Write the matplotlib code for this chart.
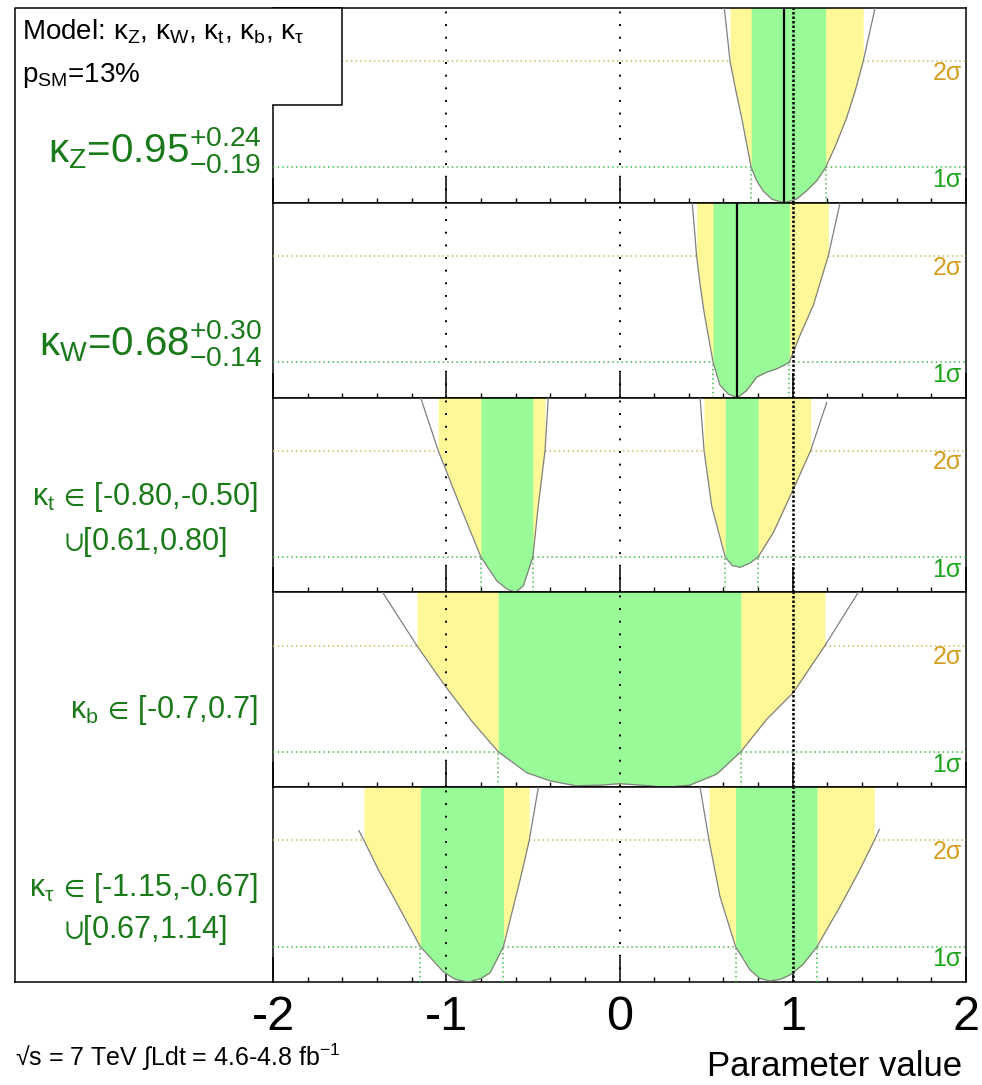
import numpy as np
import matplotlib
matplotlib.use("Agg")
import matplotlib.pyplot as plt
from matplotlib.ticker import MultipleLocator

plt.rcParams["font.family"] = ["Liberation Sans", "DejaVu Sans"]
plt.rcParams["mathtext.fontset"] = "custom"
plt.rcParams["mathtext.rm"] = "Liberation Sans"
plt.rcParams["mathtext.it"] = "Liberation Sans"
plt.rcParams["mathtext.bf"] = "Liberation Sans:bold"
plt.rcParams["mathtext.fallback"] = "stixsans"
plt.rcParams["axes.unicode_minus"] = False

# -2 ln(Lambda) scans for each coupling (curves split where they leave the frame)
kz_x = [0.605, 0.638, 0.67, 0.705, 0.76, 0.792, 0.828, 0.88, 0.95, 1.02, 1.08, 1.138, 1.19, 1.25, 1.311, 1.36, 1.407, 1.475]
kz_y = [5.5, 4.0, 3.2, 2.4, 1.0, 0.62, 0.34, 0.1, 0.0, 0.1, 0.34, 0.62, 1.0, 1.65, 2.4, 3.15, 4.0, 5.5]

kw_x = [0.42, 0.445, 0.465, 0.488, 0.54, 0.58, 0.628, 0.68, 0.734, 0.792, 0.85, 0.907, 0.955, 0.98, 1.042, 1.119, 1.205, 1.273]
kw_y = [5.5, 4.0, 3.2, 2.42, 1.0, 0.35, 0.1, 0.0, 0.2, 0.58, 0.72, 0.81, 0.93, 1.0, 1.76, 2.61, 4.0, 5.5]

kt_lx = [-1.148, -1.046, -0.92, -0.80, -0.709, -0.651, -0.6, -0.555, -0.50, -0.469, -0.43, -0.411]
kt_ly = [5.5, 4.0, 2.44, 1.0, 0.33, 0.1, 0.0, 0.19, 1.0, 2.44, 4.0, 5.5]
kt_rx = [0.465, 0.488, 0.532, 0.61, 0.65, 0.696, 0.753, 0.80, 0.888, 1.003, 1.103, 1.196]
kt_ry = [5.5, 4.0, 2.44, 1.0, 0.76, 0.71, 0.83, 1.0, 1.69, 2.91, 4.0, 5.36]

kb_x = [-1.367, -1.17, -1.007, -0.85, -0.7, -0.536, -0.401, -0.25, -0.1, 0.0, 0.12, 0.27, 0.407, 0.561, 0.7, 0.85, 1.003, 1.186, 1.378]
kb_y = [5.5, 4.0, 2.86, 1.85, 1.0, 0.41, 0.18, 0.04, 0.06, 0.1, 0.06, 0.0, 0.06, 0.37, 1.0, 1.92, 2.67, 4.0, 5.5]

ktau_lx = [-1.504, -1.475, -1.39, -1.306, -1.15, -1.017, -0.95, -0.873, -0.8, -0.747, -0.67, -0.574, -0.521, -0.469]
ktau_ly = [4.27, 4.0, 3.15, 2.41, 1.0, 0.29, 0.08, 0.0, 0.1, 0.26, 1.0, 2.88, 4.0, 5.48]
ktau_rx = [0.465, 0.517, 0.58, 0.67, 0.753, 0.81, 0.869, 0.93, 0.984, 1.06, 1.14, 1.273, 1.38, 1.471, 1.5]
ktau_ry = [5.5, 4.0, 2.41, 1.0, 0.34, 0.1, 0.03, 0.08, 0.2, 0.5, 1.0, 2.13, 3.1, 4.0, 4.31]

# 68% and 95% CL intervals
kz_1s, kz_2s = [(0.76, 1.19)], [(0.638, 1.407)]
kw_1s, kw_2s = [(0.54, 0.98)], [(0.445, 1.205)]
kt_1s, kt_2s = [(-0.80, -0.50), (0.61, 0.80)], [(-1.046, -0.43), (0.488, 1.103)]
kb_1s, kb_2s = [(-0.7, 0.7)], [(-1.17, 1.186)]
ktau_1s, ktau_2s = [(-1.15, -0.67), (0.67, 1.14)], [(-1.475, -0.521), (0.517, 1.471)]

best_fit = [0.95, 0.68, None, None, None]

panels = [
    ([(kz_x, kz_y)], kz_1s, kz_2s),
    ([(kw_x, kw_y)], kw_1s, kw_2s),
    ([(kt_lx, kt_ly), (kt_rx, kt_ry)], kt_1s, kt_2s),
    ([(kb_x, kb_y)], kb_1s, kb_2s),
    ([(ktau_lx, ktau_ly), (ktau_rx, ktau_ry)], ktau_1s, ktau_2s),
]

YELLOW = "#fff899"
GREEN = "#98fb98"
TXT_GREEN = "#1a7a1a"
ONE_LINE = "#44bb44"
TWO_LINE = "#c8bb5c"

W, H = 982, 1085
fig = plt.figure(figsize=(W / 100, H / 100), dpi=100)

X0, X1 = 273, 966
TOP, BOT = 8, 982
ph = (BOT - TOP) / 5
YMAX = 5.5


def gaps(ints):
    edges = [-2.0] + [v for iv in ints for v in iv] + [2.0]
    return list(zip(edges[::2], edges[1::2]))


for i, (curves, one_s, two_s) in enumerate(panels):
    ytop = TOP + i * ph
    ax = fig.add_axes([X0 / W, 1 - (ytop + ph) / H, (X1 - X0) / W, ph / H])
    ax.set_xlim(-2, 2)
    ax.set_ylim(0, YMAX)

    for cx, cy in curves:
        cx = np.array(cx)
        cy = np.array(cy)
        for lo, hi in two_s:
            m = (cx >= lo - 1e-9) & (cx <= hi + 1e-9)
            if m.sum() > 1:
                ax.fill_between(cx, cy, YMAX + 1, where=m, color=YELLOW, lw=0, zorder=1)
        for lo, hi in one_s:
            m = (cx >= lo - 1e-9) & (cx <= hi + 1e-9)
            if m.sum() > 1:
                ax.fill_between(cx, cy, YMAX + 1, where=m, color=GREEN, lw=0, zorder=2)
        ax.plot(cx, cy, color="#808080", lw=0.9, zorder=4)

    # 1 sigma / 2 sigma levels
    for a, b in gaps(two_s):
        ax.plot([a, b], [4, 4], color=TWO_LINE, lw=1.1, ls=(0, (1, 2)), zorder=3)
    for a, b in gaps(one_s):
        ax.plot([a, b], [1, 1], color=ONE_LINE, lw=1.1, ls=(0, (1, 2)), zorder=3)
    for lo, hi in one_s:
        ax.vlines([lo, hi], 0, 1, color=ONE_LINE, lw=1.1, ls=(0, (1, 2)), zorder=3)

    ax.axvline(-1, color="k", lw=1.4, ls=(0, (1, 5.5)), zorder=5)
    ax.axvline(0, color="k", lw=1.4, ls=(0, (1, 5.5)), zorder=5)
    ax.axvline(1, color="k", lw=1.8, ls=(0, (1, 0.8)), zorder=5)
    if best_fit[i] is not None:
        ax.axvline(best_fit[i], color="k", lw=1.6, zorder=6)

    ax.text(0.994, 4 - 0.33, "2σ", transform=ax.get_yaxis_transform(), ha="right", va="center",
            color="#d49e1e", fontsize=18, zorder=7)
    ax.text(0.994, 1 - 0.36, "1σ", transform=ax.get_yaxis_transform(), ha="right", va="center",
            color="#1ea51e", fontsize=18, zorder=7)

    ax.xaxis.set_major_locator(MultipleLocator(1))
    ax.xaxis.set_minor_locator(MultipleLocator(0.2))
    ax.set_yticks([])
    ax.tick_params(axis="x", which="major", direction="in", length=18, width=1.1,
                   top=False, bottom=True, labelbottom=(i == 4), labelsize=35, pad=9)
    ax.tick_params(axis="x", which="minor", direction="in", length=3.8, width=1.0,
                   top=False, bottom=True)
    for s in ax.spines.values():
        s.set_linewidth(1.1)

# outer frame, legend box and labels in pixel coordinates
ov = fig.add_axes([0, 0, 1, 1], zorder=10)
ov.set_xlim(0, W)
ov.set_ylim(H, 0)
ov.axis("off")
ov.fill([15, 342, 342, 15], [8, 8, 105, 105], color="white", lw=0)
ov.plot([15, 15, 342, 342, 273], [982, 8, 8, 105, 105], color="k", lw=1.1)
ov.plot([15, 273], [982, 982], color="k", lw=1.1)

ov.text(22, 32, r"Model: κ$_{Z}$, κ$_{W}$, κ$_{t}$, κ$_{b}$, κ$_{\tau}$", fontsize=20, va="center")
ov.text(22, 76, r"p$_{SM}$=13%", fontsize=20, va="center")

ov.text(262, 150, r"κ$_{Z}$=0.95$^{+0.24}_{-0.19}$", fontsize=29, color=TXT_GREEN, ha="right", va="center")
ov.text(262, 343, r"κ$_{W}$=0.68$^{+0.30}_{-0.14}$", fontsize=29, color=TXT_GREEN, ha="right", va="center")
ov.text(258, 497, r"κ$_{t}\,\in\,$[-0.80,-0.50]", fontsize=22, color=TXT_GREEN, ha="right", va="center")
ov.text(145, 542, r"$\cup$[0.61,0.80]", fontsize=22, color=TXT_GREEN, ha="center", va="center")
ov.text(258, 710, r"κ$_{b}\,\in\,$[-0.7,0.7]", fontsize=22, color=TXT_GREEN, ha="right", va="center")
ov.text(258, 888, r"κ$_{\tau}\,\in\,$[-1.15,-0.67]", fontsize=22, color=TXT_GREEN, ha="right", va="center")
ov.text(145, 930, r"$\cup$[0.67,1.14]", fontsize=22, color=TXT_GREEN, ha="center", va="center")

ov.text(15, 1057, r"√s = 7 TeV ∫Ldt = 4.6-4.8 fb$^{-1}$", fontsize=18, va="center")
ov.text(962, 1066, "Parameter value", fontsize=25, ha="right", va="center")

fig.savefig("out.png", dpi=100)
